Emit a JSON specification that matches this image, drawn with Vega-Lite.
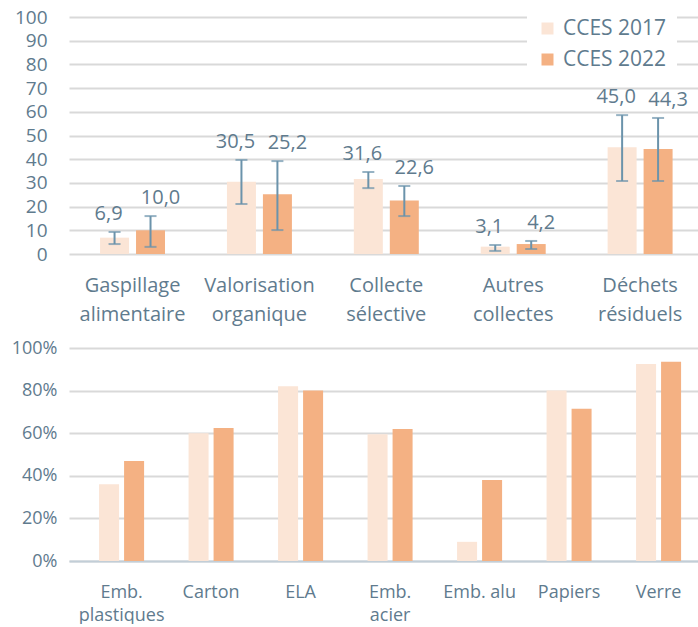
{
  "$schema": "https://vega.github.io/schema/vega-lite/v6.json",
  "background": "white",
  "padding": {"left": 11, "top": 8, "right": 0, "bottom": 0},
  "config": {
    "font": "Open Sans",
    "view": {"stroke": null},
    "locale": {"number": {"decimal": ",", "thousands": " ", "grouping": [3], "currency": ["", " €"]}},
    "axis": {"labelColor": "#5f7b8e", "labelFont": "Open Sans", "ticks": false, "gridColor": "#d9d9d9", "gridWidth": 2, "labelOverlap": false}
  },
  "spacing": 15,
  "resolve": {"scale": {"color": "independent", "xOffset": "independent"}},
  "vconcat": [
    {
      "width": 629,
      "height": 237,
      "data": {"values": [
        {"cat": "Gaspillage alimentaire", "serie": "CCES 2017", "value": 6.9, "lo": 4.2, "hi": 9.3},
        {"cat": "Gaspillage alimentaire", "serie": "CCES 2022", "value": 10.0, "lo": 3.0, "hi": 16.0},
        {"cat": "Valorisation organique", "serie": "CCES 2017", "value": 30.5, "lo": 21.1, "hi": 39.7},
        {"cat": "Valorisation organique", "serie": "CCES 2022", "value": 25.2, "lo": 10.1, "hi": 39.2},
        {"cat": "Collecte sélective", "serie": "CCES 2017", "value": 31.6, "lo": 27.8, "hi": 34.6},
        {"cat": "Collecte sélective", "serie": "CCES 2022", "value": 22.6, "lo": 16.0, "hi": 28.7},
        {"cat": "Autres collectes", "serie": "CCES 2017", "value": 3.1, "lo": 1.3, "hi": 3.8},
        {"cat": "Autres collectes", "serie": "CCES 2022", "value": 4.2, "lo": 2.1, "hi": 5.5},
        {"cat": "Déchets résiduels", "serie": "CCES 2017", "value": 45.0, "lo": 30.8, "hi": 58.6},
        {"cat": "Déchets résiduels", "serie": "CCES 2022", "value": 44.3, "lo": 30.8, "hi": 57.4}
      ]},
      "encoding": {
        "x": {"field": "cat", "type": "nominal", "sort": null, "title": null,
          "scale": {"paddingInner": 0.488, "paddingOuter": 0.2225, "align": 0.55},
          "axis": {"labelAngle": 0, "domain": false, "labelFontSize": 20, "labelLineHeight": 29, "labelPadding": 21, "labelExpr": "split(datum.label, ' ')"}},
        "xOffset": {"field": "serie", "type": "nominal", "scale": {"paddingInner": 0.194, "paddingOuter": 0}}
      },
      "layer": [
        {
          "mark": {"type": "bar"},
          "encoding": {
            "y": {"field": "value", "type": "quantitative", "title": null,
              "scale": {"domain": [0, 100]},
              "axis": {"values": [0, 10, 20, 30, 40, 50, 60, 70, 80, 90, 100], "domain": false, "labelFontSize": 19, "labelPadding": 22, "labelOverlap": false}},
            "color": {"field": "serie", "type": "nominal", "title": null,
              "scale": {"domain": ["CCES 2017", "CCES 2022"], "range": ["#fbe5d6", "#f4b183"]},
              "legend": {"orient": "none", "legendX": 458, "legendY": -9, "padding": 10, "fillColor": "white",
                "symbolType": "square", "symbolSize": 144, "symbolStrokeWidth": 0, "labelFontSize": 21, "labelColor": "#5f7b8e",
                "labelOffset": 5, "rowPadding": 9}}
          }
        },
        {
          "mark": {"type": "rule", "color": "#6b93ab", "strokeWidth": 2},
          "encoding": {
            "y": {"field": "lo", "type": "quantitative", "axis": {"values": [0, 10, 20, 30, 40, 50, 60, 70, 80, 90, 100], "domain": false, "labelFontSize": 19, "labelPadding": 22, "labelOverlap": false}},
            "y2": {"field": "hi"}
          }
        },
        {
          "mark": {"type": "tick", "color": "#6b93ab", "thickness": 2, "size": 12, "orient": "horizontal"},
          "encoding": {"y": {"field": "lo", "type": "quantitative", "axis": {"values": [0, 10, 20, 30, 40, 50, 60, 70, 80, 90, 100], "domain": false, "labelFontSize": 19, "labelPadding": 22, "labelOverlap": false}}}
        },
        {
          "mark": {"type": "tick", "color": "#6b93ab", "thickness": 2, "size": 12, "orient": "horizontal"},
          "encoding": {"y": {"field": "hi", "type": "quantitative", "axis": {"values": [0, 10, 20, 30, 40, 50, 60, 70, 80, 90, 100], "domain": false, "labelFontSize": 19, "labelPadding": 22, "labelOverlap": false}}}
        },
        {
          "transform": [{"filter": "datum.serie == 'CCES 2017'"}],
          "mark": {"type": "text", "color": "#5f7b8e", "fontSize": 20, "baseline": "alphabetic", "dy": -12, "dx": -6},
          "encoding": {
            "y": {"field": "hi", "type": "quantitative", "axis": {"values": [0, 10, 20, 30, 40, 50, 60, 70, 80, 90, 100], "domain": false, "labelFontSize": 19, "labelPadding": 22, "labelOverlap": false}},
            "text": {"field": "value", "type": "quantitative", "format": ".1f"}
          }
        },
        {
          "transform": [{"filter": "datum.serie == 'CCES 2022'"}],
          "mark": {"type": "text", "color": "#5f7b8e", "fontSize": 20, "baseline": "alphabetic", "dy": -12, "dx": 10},
          "encoding": {
            "y": {"field": "hi", "type": "quantitative", "axis": {"values": [0, 10, 20, 30, 40, 50, 60, 70, 80, 90, 100], "domain": false, "labelFontSize": 19, "labelPadding": 22, "labelOverlap": false}},
            "text": {"field": "value", "type": "quantitative", "format": ".1f"}
          }
        }
      ]
    },
    {
      "width": 629,
      "height": 213,
      "data": {"values": [
        {"cat": "Emb. plastiques", "serie": "CCES 2017", "value": 0.36},
        {"cat": "Emb. plastiques", "serie": "CCES 2022", "value": 0.47},
        {"cat": "Carton", "serie": "CCES 2017", "value": 0.60},
        {"cat": "Carton", "serie": "CCES 2022", "value": 0.625},
        {"cat": "ELA", "serie": "CCES 2017", "value": 0.82},
        {"cat": "ELA", "serie": "CCES 2022", "value": 0.80},
        {"cat": "Emb. acier", "serie": "CCES 2017", "value": 0.595},
        {"cat": "Emb. acier", "serie": "CCES 2022", "value": 0.62},
        {"cat": "Emb. alu", "serie": "CCES 2017", "value": 0.09},
        {"cat": "Emb. alu", "serie": "CCES 2022", "value": 0.38},
        {"cat": "Papiers", "serie": "CCES 2017", "value": 0.80},
        {"cat": "Papiers", "serie": "CCES 2022", "value": 0.715},
        {"cat": "Verre", "serie": "CCES 2017", "value": 0.925},
        {"cat": "Verre", "serie": "CCES 2022", "value": 0.935}
      ]},
      "mark": {"type": "bar"},
      "encoding": {
        "x": {"field": "cat", "type": "nominal", "sort": null, "title": null,
          "scale": {"paddingInner": 0.497, "paddingOuter": 0.2625, "align": 0.64},
          "axis": {"labelAngle": 0, "domain": true, "domainColor": "#c2ced7", "domainWidth": 2, "labelFontSize": 18, "labelLineHeight": 23, "labelPadding": 22,
            "labelExpr": "datum.label == 'Emb. alu' ? datum.label : split(datum.label, ' ')"}},
        "xOffset": {"field": "serie", "type": "nominal", "scale": {"paddingInner": 0.2, "paddingOuter": 0}},
        "y": {"field": "value", "type": "quantitative", "title": null,
          "scale": {"domain": [0, 1]},
          "axis": {"values": [0, 0.2, 0.4, 0.6, 0.8, 1], "format": ".0%", "domain": false, "labelFontSize": 18, "labelPadding": 12}},
        "color": {"field": "serie", "type": "nominal",
          "scale": {"domain": ["CCES 2017", "CCES 2022"], "range": ["#fbe5d6", "#f4b183"]},
          "legend": null}
      }
    }
  ]
}
